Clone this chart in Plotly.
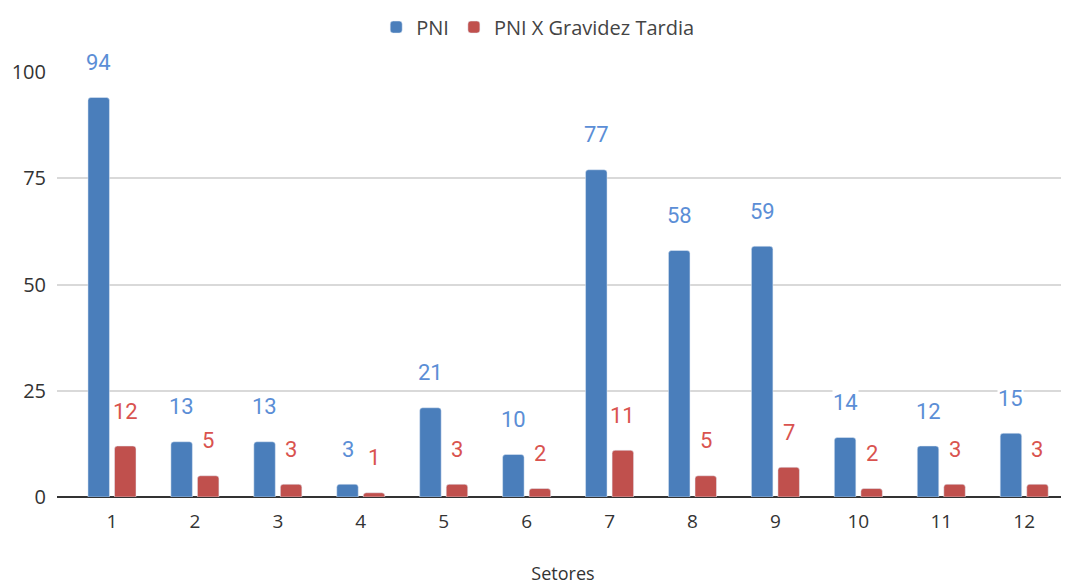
import plotly.graph_objects as go

# --- data ---
setores = [str(i) for i in range(1, 13)]
pni = [94, 13, 13, 3, 21, 10, 77, 58, 59, 14, 12, 15]
pni_gravidez_tardia = [12, 5, 3, 1, 3, 2, 11, 5, 7, 2, 3, 3]
y_ticks = [0, 25, 50, 75, 100]

BLUE = '#4A7EBB'
RED = '#C0504D'
BLUE_TXT = '#5B8ED6'
RED_TXT = '#D9534F'

# --- geometry (page adds an 8px body margin, so figure is smaller than window) ---
W, H = 1061, 577
M_L, M_R, M_T, M_B = 49, 0, 64, 88
X_RANGE = [-0.663, 11.54]
BARGAP, BARGROUPGAP = 0.36, 0.19

# pixel offset of each bar centre from its category centre
cat_px = (W - M_L - M_R) / (X_RANGE[1] - X_RANGE[0])
half_slot = cat_px * (1 - BARGAP) / 4

fig = go.Figure()

fig.add_trace(go.Bar(
    x=setores, y=pni, name='PNI',
    marker=dict(color=BLUE, cornerradius=3),
))
fig.add_trace(go.Bar(
    x=setores, y=pni_gravidez_tardia, name='PNI X Gravidez Tardia',
    marker=dict(color=RED, cornerradius=3),
))

# value labels, floating well above each bar (white box breaks the grid line)
# on a category axis the annotation x is the category index
for vals, shift, color in [(pni, -half_slot, BLUE_TXT), (pni_gravidez_tardia, half_slot, RED_TXT)]:
    for idx, v in enumerate(vals):
        fig.add_annotation(
            x=idx, y=v, text=str(v), showarrow=False,
            xshift=shift, yshift=35, yanchor='middle',
            font=dict(family='Roboto', size=22, color=color),
            bgcolor='white', borderpad=0,
        )

fig.update_layout(
    width=W, height=H,
    barmode='group', bargap=BARGAP, bargroupgap=BARGROUPGAP,
    plot_bgcolor='white', paper_bgcolor='white',
    font=dict(family='Open Sans', size=19, color='#333333'),
    margin=dict(l=M_L, r=M_R, t=M_T, b=M_B, autoexpand=False),
    legend=dict(orientation='h', x=0.475, xanchor='center', yref='container',
                y=0.967, yanchor='middle',
                font=dict(size=20, color='#444444')),
)
fig.update_xaxes(
    type='category', range=X_RANGE, automargin=False,
    showgrid=False, ticks='', tickfont=dict(size=19), ticklabelstandoff=11,
    title=dict(text='Setores', font=dict(size=18), standoff=38),
)
fig.update_yaxes(
    range=[0, 100], tickvals=y_ticks, automargin=False,
    showgrid=True, gridcolor='#D9D9D9', gridwidth=1.5,
    zeroline=True, zerolinecolor='#333333', zerolinewidth=2,
    ticks='', ticklabelstandoff=10, tickfont=dict(size=20),
)

fig.write_html("out.html")
